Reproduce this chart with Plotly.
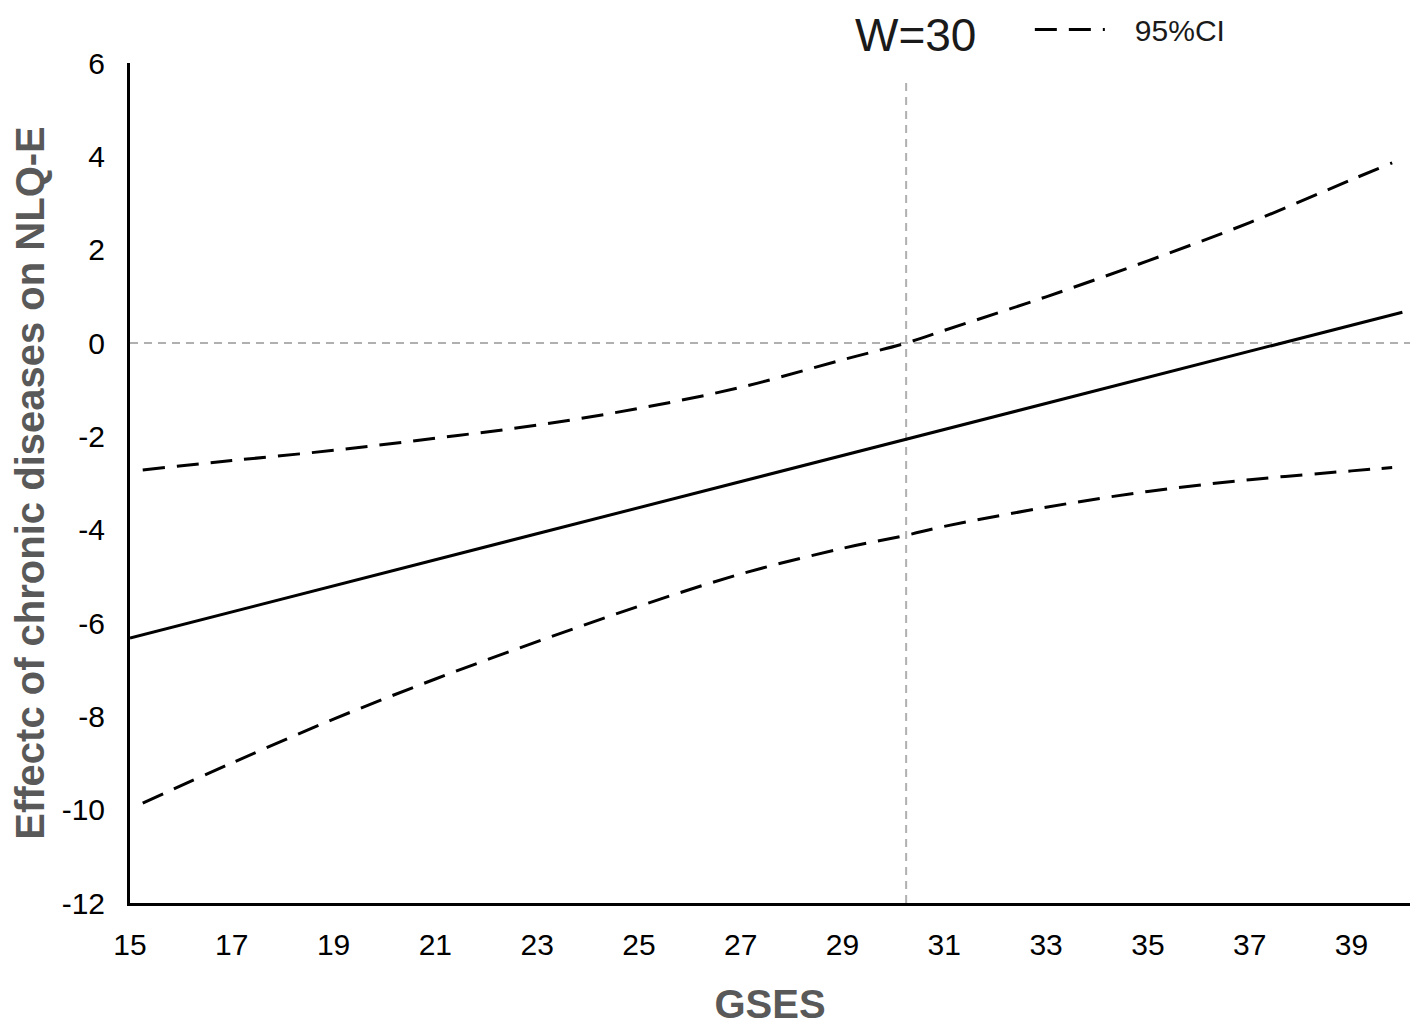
import plotly.graph_objects as go

# ---- data ----
x_effect = [15, 40]
y_effect = [-6.32, 0.66]

x_ci = [15.25, 17, 19, 21, 23, 25, 27, 29, 30.25, 31, 33, 35, 37, 39, 39.8]
upper_ci = [-2.72, -2.52, -2.30, -2.04, -1.76, -1.40, -0.95, -0.36, 0.0, 0.27, 0.99, 1.76, 2.58, 3.50, 3.86]
lower_ci = [-9.86, -9.00, -8.06, -7.20, -6.40, -5.64, -4.95, -4.40, -4.12, -3.93, -3.52, -3.18, -2.93, -2.74, -2.67]

jn_point = 30.25
x_ticks = [15, 17, 19, 21, 23, 25, 27, 29, 31, 33, 35, 37, 39]
y_ticks = [6, 4, 2, 0, -2, -4, -6, -8, -10, -12]
y_tick_text = ["6", "4", "2", "0", "-2", "-4", "-6", "-8", "-10", "-12"]
x_range = [15, 40.15]
y_range = [-12, 6]

dash = "22px,12px"

fig = go.Figure()
fig.add_trace(go.Scatter(x=x_ci, y=upper_ci, mode="lines", name="\u00a0\u00a0\u00a095%CI",
                         line=dict(color="black", width=3, dash=dash, shape="spline"),
                         showlegend=True))
fig.add_trace(go.Scatter(x=x_ci, y=lower_ci, mode="lines", name="95%CI",
                         line=dict(color="black", width=3, dash=dash, shape="spline"),
                         showlegend=False))
fig.add_trace(go.Scatter(x=x_effect, y=y_effect, mode="lines", name="Effect",
                         line=dict(color="black", width=3), showlegend=False))

# reference lines
fig.add_shape(type="line", xref="x", yref="y", x0=x_range[0], x1=x_range[1], y0=0, y1=0,
              line=dict(color="#b0b0b0", width=2, dash="8px,6px"), layer="below")
fig.add_shape(type="line", xref="x", yref="y", x0=jn_point, x1=jn_point, y0=y_range[0], y1=5.6,
              line=dict(color="#b0b0b0", width=2, dash="8px,6px"), layer="below")

fig.add_annotation(text="W=30", xref="paper", yref="paper", x=0.614, y=1.033,
                   showarrow=False, font=dict(family="Liberation Sans, Arial", size=46, color="#1a1a1a"),
                   xanchor="center", yanchor="middle")

fig.update_layout(
    width=1418, height=1029,
    margin=dict(l=122, r=16, t=55, b=134, autoexpand=False),
    plot_bgcolor="white", paper_bgcolor="white",
    font=dict(family="Liberation Sans, Arial", color="black"),
    legend=dict(x=0.703, y=1.04, xanchor="left", yanchor="middle",
                itemwidth=70, font=dict(size=30, color="#1a1a1a"), bgcolor="rgba(0,0,0,0)"),
    xaxis=dict(range=x_range, tickvals=x_ticks, ticks="", ticklabelstandoff=13,
               showgrid=False, zeroline=False,
               showline=True, linecolor="black", linewidth=3,
               tickfont=dict(size=30, color="black"),
               title=dict(text="<b>GSES</b>", font=dict(size=40, color="#595959"), standoff=30)),
    yaxis=dict(range=y_range, tickvals=y_ticks, ticktext=y_tick_text, ticks="",
               ticklabelstandoff=16, showgrid=False, zeroline=False,
               showline=True, linecolor="black", linewidth=3,
               tickfont=dict(size=30, color="black"),
               title=dict(text="<b>Effectc of chronic diseases on NLQ-E</b>",
                          font=dict(size=40, color="#595959"), standoff=10)),
)

fig.write_html("out.html")
